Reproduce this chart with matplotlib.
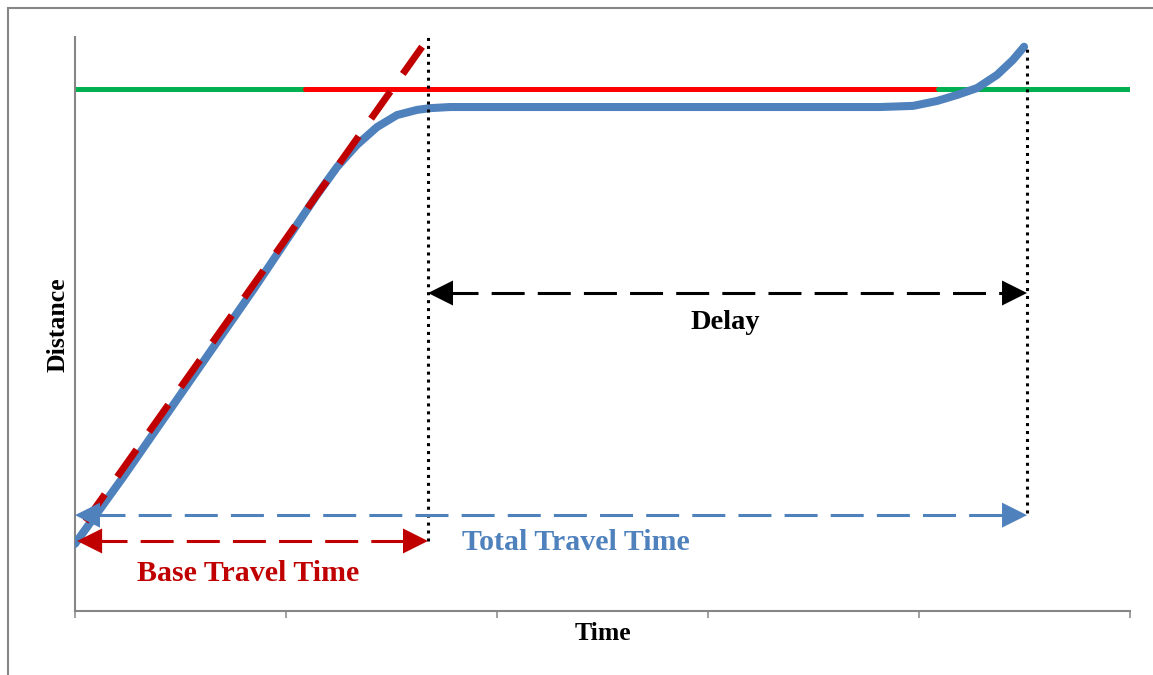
import numpy as np
import matplotlib
matplotlib.use("Agg")
import matplotlib.pyplot as plt
from matplotlib.patches import FancyArrowPatch, Rectangle

# travel curve (time, distance)
curve_t = [0.0, 0.2275, 0.8436, 1.147, 1.242, 1.336, 1.431, 1.526, 1.621, 1.682,
           1.777, 3.815, 3.972, 4.085, 4.180, 4.275, 4.370, 4.445, 4.498]
curve_d = [11.7, 23.3, 55.9, 72.5, 77.35, 81.2, 84.3, 86.4, 87.3, 87.6,
           87.8, 87.8, 88.0, 88.85, 89.9, 91.1, 93.4, 96.0, 98.3]

# free-flow (base) line, listed top end first so the dash pattern starts there
base_t = [1.645, 0.0]
base_d = [98.3, 13.0]

# threshold line and the red stretch on top of it
thresh_t = [0.0, 5.0]
thresh_d = [90.9, 90.9]
red_t = [1.09, 4.09]
green_right_t = [4.09, 5.0]

# marker times
t_base_end = 1.673
t_total_end = 4.512
v1_d = [12.2, 100.0]
v2_d = [17.1, 98.1]

y_delay = 55.4
y_total = 16.7
y_base = 12.2

c_blue = "#4F81BD"
c_dred = "#C00000"
c_red = "#FF0000"
c_green = "#00B050"
c_axis = "#868686"

plt.rcParams['font.family'] = ['Liberation Serif', 'DejaVu Serif']

fig = plt.figure(figsize=(11.53, 6.75), dpi=100)
ax = fig.add_axes([75/1153, 64/675, 1055/1153, 574/675])

ax.plot(thresh_t, thresh_d, color=c_green, lw=3.6, solid_capstyle='butt', zorder=2)
ax.plot(red_t, thresh_d, color=c_red, lw=3.6, solid_capstyle='round', zorder=3)
ax.plot(green_right_t, thresh_d, color=c_green, lw=3.6, solid_capstyle='round', zorder=3)
ax.plot(curve_t, curve_d, color=c_blue, lw=5.8, solid_capstyle='round',
        solid_joinstyle='round', zorder=4)
ax.plot(base_t, base_d, color=c_dred, lw=5, dashes=(4.8, 3.1), zorder=5)

ax.plot([t_base_end, t_base_end], v1_d, color='black', lw=2.2, dashes=(1, 1.6),
        dash_capstyle='butt', zorder=6, clip_on=False)
ax.plot([t_total_end, t_total_end], v2_d, color='black', lw=2.2, dashes=(1, 1.6),
        dash_capstyle='butt', zorder=6, clip_on=False)


def dashed_arrow(x0, x1, y, color):
    ax.plot([x0 + 0.08, x1 - 0.08], [y, y], color=color, lw=2.2,
            dashes=(10.8, 4.3), dash_capstyle='butt', zorder=7, clip_on=False)
    for tip, tail in [(x1, x1 - 0.1), (x0, x0 + 0.1)]:
        ar = FancyArrowPatch((tail, y), (tip, y),
                             arrowstyle='-|>,head_length=18,head_width=9',
                             mutation_scale=1, color=color, lw=0,
                             shrinkA=0, shrinkB=0, zorder=8, clip_on=False)
        ax.add_patch(ar)


dashed_arrow(t_base_end, t_total_end, y_delay, 'black')
dashed_arrow(0.0, t_total_end, y_total, c_blue)
dashed_arrow(0.01, t_base_end, y_base, c_dred)

ax.text(3.08, 50.2, "Delay", ha='center', va='center', fontsize=20.5,
        fontweight='bold', color='black')
ax.text(2.374, 12.0, "Total Travel Time", ha='center', va='center', fontsize=21.5,
        fontweight='bold', color=c_blue)
ax.text(0.82, 6.6, "Base Travel Time", ha='center', va='center', fontsize=21.5,
        fontweight='bold', color=c_dred)

ax.set_xlim(0, 5)
ax.set_ylim(0, 100)
ax.set_xticks(np.arange(0, 6))
ax.set_xticklabels([])
ax.set_yticks([])
ax.tick_params(axis='x', direction='out', length=5, width=1.1, color=c_axis)
for s in ['top', 'right']:
    ax.spines[s].set_visible(False)
for s in ['left', 'bottom']:
    ax.spines[s].set_color(c_axis)
    ax.spines[s].set_linewidth(1.5)

fig.text(603/1153, 1 - 633/675, "Time", ha='center', va='center', fontsize=18.5,
         fontweight='bold')
fig.text(58/1153, 1 - 325/675, "Distance", ha='center', va='center', fontsize=18.5,
         fontweight='bold', rotation=90)

# outer frame (right and bottom edges fall outside the image)
fig.patches.append(Rectangle((7.5/1153, -0.05), 1.2, 1 - 7.5/675 + 0.05,
                             transform=fig.transFigure, fill=False,
                             edgecolor=c_axis, lw=1.5))

fig.savefig("out.png", dpi=100)
